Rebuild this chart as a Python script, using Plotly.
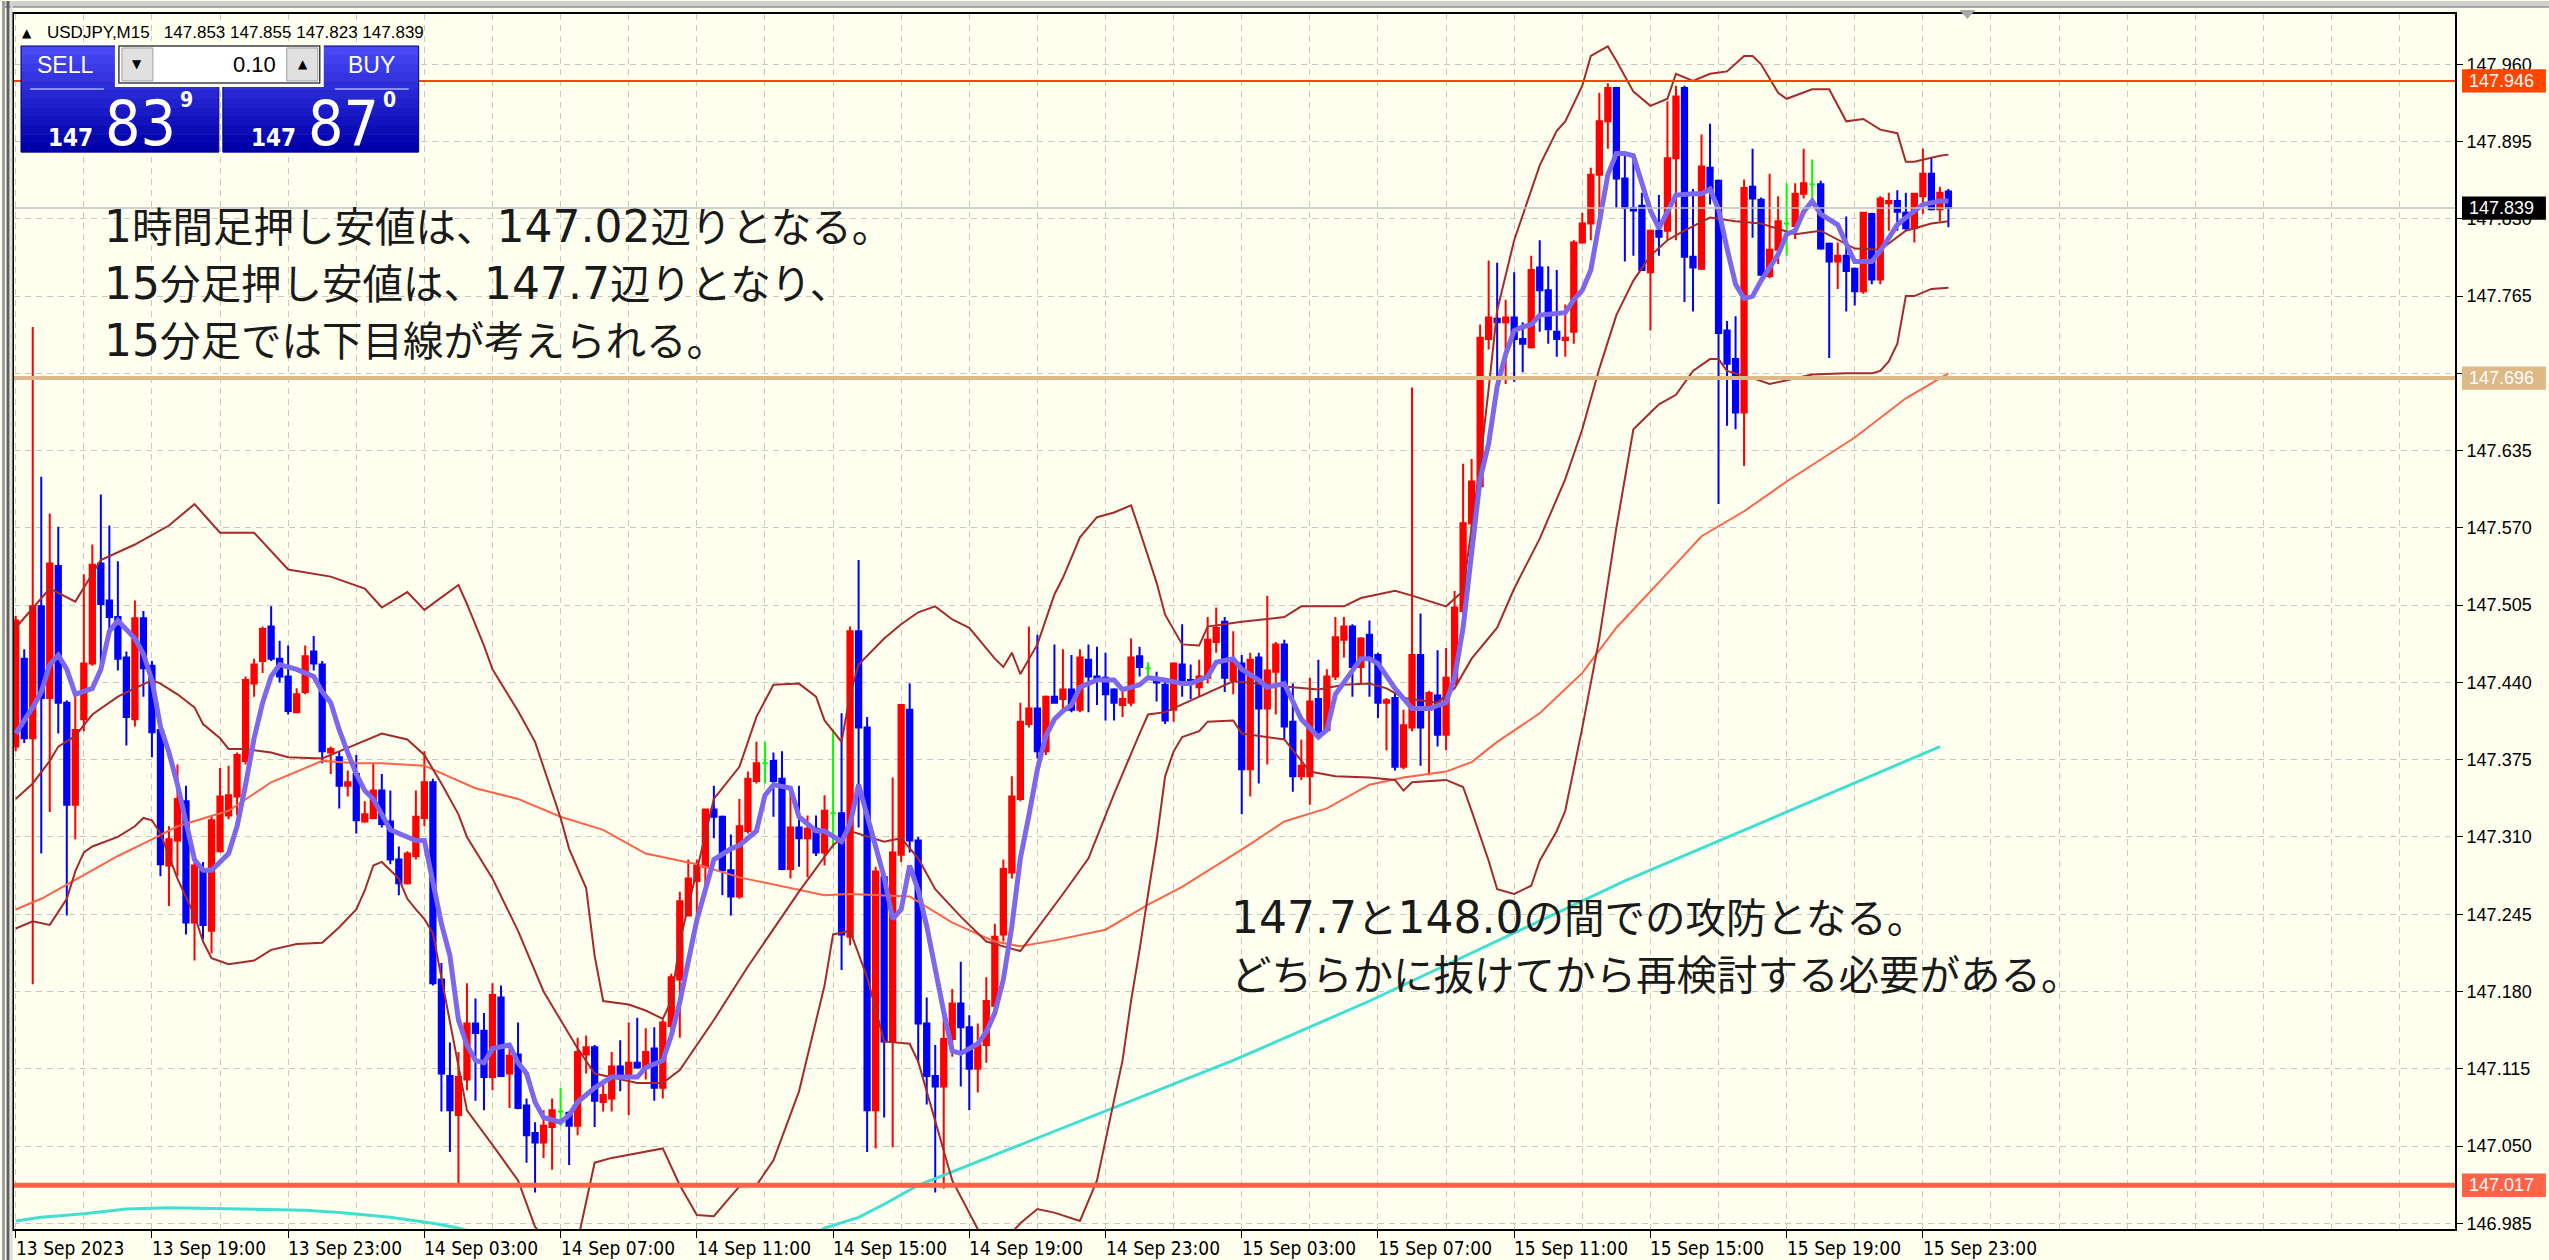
import re
import plotly.graph_objects as go

# ---------------- DATA (USDJPY M15, bar 0 = 13 Sep 2023 15:00) ----------------
opens = [147.386,147.460,147.393,147.504,147.427,147.538,147.423,147.337,147.409,147.456,
147.540,147.509,147.495,147.461,147.409,147.494,147.454,147.400,147.286,147.307,
147.340,147.238,147.282,147.231,147.298,147.328,147.344,147.374,147.439,147.458,
147.487,147.460,147.445,147.415,147.432,147.466,147.455,147.381,147.377,147.353,
147.363,147.323,147.326,147.349,147.323,147.291,147.271,147.294,147.326,147.356,
147.190,147.109,147.076,147.106,147.153,147.147,147.108,147.175,147.111,147.127,
147.084,147.061,147.053,147.066,147.079,147.078,147.067,147.127,147.133,147.087,
147.090,147.117,147.108,147.120,147.116,147.132,147.099,147.151,147.190,147.244,
147.273,147.285,147.333,147.327,147.282,147.260,147.315,147.357,147.372,147.374,
147.359,147.283,147.318,147.309,147.317,147.297,147.330,147.330,147.226,147.483,
147.402,147.080,147.276,147.138,147.295,147.417,147.307,147.153,147.109,147.100,
147.140,147.170,147.150,147.115,147.135,147.168,147.228,147.280,147.342,147.405,
147.418,147.382,147.428,147.426,147.434,147.417,147.459,147.445,147.444,147.434,
147.421,147.423,147.462,147.452,147.443,147.438,147.417,147.455,147.442,147.436,
147.444,147.474,147.491,147.442,147.456,147.367,147.461,147.418,147.449,147.472,
147.407,147.361,147.361,147.426,147.400,147.445,147.476,147.487,147.453,147.480,
147.463,147.423,147.427,147.369,147.402,147.463,147.417,147.429,147.396,147.439,
147.500,147.574,147.605,147.729,147.746,147.743,147.747,147.729,147.722,147.789,
147.770,147.735,147.728,147.735,147.810,147.826,147.867,147.912,147.940,147.864,
147.839,147.841,147.785,147.820,147.820,147.881,147.940,147.798,147.788,147.873,
147.862,147.736,147.712,147.667,147.857,147.846,147.782,147.804,147.826,147.824,
147.851,147.859,147.859,147.809,147.794,147.799,147.788,147.769,147.834,147.779,
147.843,147.845,147.835,147.822,147.849,147.868,147.838,147.853]
highs = [147.496,147.468,147.739,147.613,147.582,147.571,147.425,147.433,147.531,147.556,
147.598,147.572,147.542,147.466,147.509,147.500,147.458,147.403,147.319,147.371,
147.353,147.290,147.289,147.328,147.368,147.370,147.381,147.445,147.460,147.487,
147.504,147.475,147.471,147.435,147.471,147.479,147.458,147.386,147.382,147.366,
147.379,147.340,147.372,147.363,147.349,147.302,147.298,147.349,147.382,147.359,
147.204,147.137,147.129,147.187,147.174,147.162,147.187,147.185,147.132,147.154,
147.090,147.070,147.080,147.090,147.099,147.079,147.141,147.143,147.135,147.106,
147.129,147.139,147.154,147.158,147.149,147.150,147.156,147.195,147.264,147.291,
147.291,147.334,147.353,147.328,147.312,147.342,147.365,147.390,147.390,147.381,
147.382,147.348,147.353,147.328,147.328,147.345,147.401,147.414,147.487,147.543,
147.411,147.285,147.280,147.360,147.422,147.439,147.310,147.175,147.135,147.160,
147.182,147.205,147.160,147.153,147.192,147.237,147.291,147.361,147.423,147.487,
147.480,147.429,147.472,147.468,147.463,147.468,147.472,147.470,147.465,147.435,
147.434,147.477,147.470,147.457,147.449,147.441,147.457,147.489,147.455,147.459,
147.495,147.503,147.495,147.483,147.463,147.465,147.465,147.513,147.474,147.476,
147.439,147.392,147.444,147.459,147.451,147.495,147.495,147.489,147.478,147.492,
147.465,147.427,147.431,147.417,147.688,147.498,147.433,147.467,147.469,147.517,
147.624,147.628,147.741,147.795,147.793,147.762,147.785,147.743,147.799,147.812,
147.790,147.787,147.758,147.812,147.835,147.873,147.936,147.944,147.941,147.885,
147.885,147.852,147.821,147.850,147.929,147.942,147.942,147.855,147.901,147.910,
147.863,147.744,147.748,147.863,147.889,147.848,147.868,147.849,147.860,147.860,
147.889,147.880,147.862,147.810,147.810,147.832,147.789,147.836,147.835,147.849,
147.852,147.854,147.852,147.852,147.889,147.882,147.857,147.855]
lows = [147.382,147.389,147.186,147.296,147.331,147.397,147.244,147.308,147.399,147.454,
147.455,147.483,147.450,147.387,147.403,147.428,147.377,147.277,147.252,147.277,
147.228,147.206,147.224,147.212,147.297,147.325,147.328,147.371,147.428,147.448,
147.458,147.440,147.413,147.414,147.430,147.450,147.372,147.363,147.334,147.344,
147.313,147.322,147.325,147.318,147.287,147.261,147.270,147.291,147.319,147.185,
147.079,147.045,147.017,147.097,147.088,147.080,147.097,147.108,147.082,147.081,
147.036,147.011,147.040,147.030,147.067,147.034,147.059,147.111,147.066,147.079,
147.079,147.096,147.076,147.115,147.106,147.088,147.090,147.141,147.141,147.243,
147.243,147.261,147.309,147.261,147.244,147.258,147.313,147.355,147.355,147.327,
147.282,147.275,147.285,147.276,147.294,147.286,147.300,147.198,147.219,147.318,
147.045,147.048,147.074,147.049,147.289,147.297,147.120,147.085,147.011,147.014,
147.125,147.100,147.080,147.095,147.120,147.164,147.222,147.275,147.340,147.402,
147.376,147.379,147.422,147.415,147.415,147.415,147.415,147.421,147.408,147.408,
147.411,147.420,147.445,147.445,147.424,147.405,147.407,147.428,147.426,147.428,
147.439,147.465,147.432,147.430,147.329,147.344,147.355,147.371,147.413,147.392,
147.348,147.358,147.337,147.394,147.399,147.442,147.461,147.428,147.439,147.428,
147.410,147.383,147.366,147.367,147.399,147.370,147.362,147.386,147.383,147.438,
147.498,147.553,147.603,147.720,147.695,147.691,147.693,147.701,147.721,147.735,
147.725,147.714,147.714,147.725,147.809,147.812,147.831,147.889,147.839,147.794,
147.799,147.786,147.736,147.799,147.812,147.812,147.760,147.752,147.787,147.842,
147.590,147.656,147.653,147.622,147.814,147.782,147.780,147.792,147.799,147.813,
147.847,147.847,147.804,147.713,147.771,147.752,147.757,147.767,147.775,147.775,
147.820,147.820,147.820,147.810,147.834,147.837,147.828,147.823]
closes = [147.492,147.393,147.504,147.427,147.540,147.423,147.337,147.400,147.456,147.539,
147.506,147.495,147.460,147.411,147.494,147.452,147.398,147.287,147.308,147.342,
147.238,147.286,147.236,147.324,147.344,147.345,147.379,147.442,147.455,147.485,
147.460,147.445,147.416,147.430,147.462,147.456,147.382,147.384,147.353,147.356,
147.324,147.329,147.349,147.321,147.291,147.271,147.296,147.327,147.356,147.187,
147.111,147.080,147.108,147.153,147.145,147.108,147.177,147.109,147.126,147.082,
147.059,147.053,147.067,147.080,147.079,147.067,147.129,147.133,147.088,147.093,
147.117,147.108,147.120,147.116,147.129,147.099,147.154,147.192,147.256,147.275,
147.286,147.333,147.327,147.282,147.260,147.319,147.359,147.372,147.372,147.357,
147.283,147.318,147.309,147.317,147.297,147.332,147.330,147.228,147.483,147.402,
147.080,147.281,147.138,147.297,147.421,147.307,147.153,147.109,147.100,147.140,
147.170,147.150,147.115,147.135,147.172,147.226,147.283,147.344,147.407,147.418,
147.382,147.428,147.423,147.434,147.417,147.461,147.445,147.443,147.430,147.423,
147.426,147.461,147.453,147.452,147.440,147.408,147.456,147.441,147.439,147.445,
147.476,147.486,147.444,147.457,147.367,147.459,147.418,147.450,147.472,147.403,
147.361,147.370,147.424,147.396,147.445,147.478,147.487,147.453,147.477,147.459,
147.423,147.425,147.369,147.404,147.463,147.402,147.431,147.396,147.444,147.503,
147.574,147.609,147.730,147.747,147.743,147.747,147.729,147.725,147.787,147.770,
147.737,147.729,147.730,147.810,147.826,147.867,147.912,147.940,147.864,147.839,
147.837,147.787,147.820,147.815,147.881,147.933,147.798,147.789,147.874,147.853,
147.734,147.708,147.667,147.856,147.847,147.783,147.804,147.828,147.826,147.851,
147.860,147.859,147.805,147.794,147.799,147.786,147.769,147.835,147.779,147.847,
147.845,147.836,147.822,147.851,147.868,147.838,147.852,147.839]

# Bollinger bands (20): (bar, price)
bb_up_x = [0,4,7,10,14,18,21,24,28,32,37,41,43,46,48,52,53,55,56,59,61,62,64,65,67,68,69,72,74,76,77,78,80,82,85,87,89,92,94,95,97,98,99,102,104,106,108,110,112,115,116,117,118,120,122,123,125,127,129,131,132,134,135,137,139,140,144,149,151,156,158,162,164,168,170,171,172,173,174,176,179,181,182,184,185,187,188,190,192,194,195,197,199,201,203,204,205,207,208,211,213,215,217,219,221,222,223,226,227]
bb_up = [147.486,147.519,147.508,147.543,147.556,147.572,147.590,147.566,147.566,147.535,147.529,147.519,147.503,147.516,147.501,147.522,147.506,147.471,147.451,147.416,147.390,147.368,147.326,147.300,147.267,147.210,147.172,147.169,147.164,147.157,147.172,147.222,147.281,147.342,147.369,147.411,147.438,147.439,147.428,147.408,147.390,147.430,147.455,147.477,147.489,147.499,147.504,147.493,147.486,147.460,147.453,147.465,147.447,147.472,147.514,147.528,147.562,147.579,147.583,147.589,147.568,147.524,147.497,147.472,147.471,147.487,147.491,147.495,147.504,147.504,147.511,147.517,147.513,147.504,147.517,147.573,147.624,147.687,147.753,147.812,147.875,147.904,147.912,147.942,147.967,147.975,147.963,147.937,147.925,147.931,147.952,147.946,147.952,147.954,147.967,147.967,147.960,147.936,147.931,147.939,147.939,147.912,147.914,147.905,147.902,147.878,147.878,147.883,147.884]
bb_mid_x = [0,2,4,5,7,9,12,16,17,19,21,22,24,25,27,30,32,36,38,40,43,46,48,50,52,53,56,59,62,66,68,73,76,78,82,86,92,96,98,102,104,106,108,111,114,118,120,123,126,129,132,133,135,139,143,150,153,156,159,161,163,165,167,169,171,174,176,179,182,184,186,188,190,192,194,196,199,202,205,209,212,216,219,222,225,227]
bb_mid = [147.342,147.355,147.374,147.386,147.395,147.413,147.428,147.442,147.439,147.430,147.419,147.405,147.393,147.384,147.384,147.381,147.377,147.376,147.382,147.388,147.397,147.392,147.379,147.355,147.329,147.310,147.275,147.231,147.180,147.132,147.111,147.103,147.103,147.114,147.156,147.201,147.264,147.303,147.315,147.306,147.309,147.292,147.266,147.243,147.222,147.214,147.233,147.262,147.292,147.346,147.397,147.413,147.415,147.428,147.441,147.436,147.434,147.438,147.439,147.435,147.427,147.425,147.423,147.435,147.460,147.486,147.519,147.561,147.611,147.653,147.704,147.749,147.778,147.799,147.812,147.820,147.831,147.828,147.826,147.817,147.820,147.805,147.804,147.820,147.826,147.828]
bb_lo_x = [0,2,4,6,7,8,9,12,14,15,16,17,19,21,22,23,25,28,30,33,36,38,40,41,42,43,45,46,47,48,49,51,53,56,59,61,64,65,66,68,70,76,78,80,82,85,87,89,92,95,96,98,100,102,105,106,110,113,115,118,120,122,125,127,130,131,132,133,134,135,136,137,139,140,143,144,149,152,155,159,162,163,164,168,170,171,173,174,176,178,179,181,182,184,186,188,189,190,193,195,197,199,200,201,204,206,211,215,218,219,220,221,222,223,225,227]
bb_lo = [147.233,147.239,147.236,147.258,147.281,147.297,147.302,147.310,147.319,147.326,147.324,147.313,147.275,147.244,147.222,147.208,147.203,147.206,147.215,147.220,147.221,147.234,147.249,147.265,147.286,147.289,147.275,147.258,147.249,147.241,147.229,147.155,147.080,147.051,147.021,146.982,146.958,146.958,146.970,147.036,147.040,147.048,147.017,146.992,146.991,147.016,147.017,147.038,147.096,147.185,147.228,147.231,147.192,147.138,147.136,147.121,147.021,146.980,146.962,146.985,146.997,146.994,146.987,147.021,147.122,147.172,147.215,147.262,147.307,147.361,147.382,147.394,147.399,147.407,147.408,147.397,147.392,147.365,147.361,147.360,147.358,147.349,147.356,147.358,147.352,147.332,147.290,147.266,147.262,147.269,147.290,147.315,147.332,147.402,147.477,147.570,147.611,147.653,147.674,147.682,147.702,147.712,147.712,147.702,147.696,147.691,147.699,147.700,147.700,147.702,147.710,147.725,147.765,147.765,147.771,147.772]

# Long moving average (orange) and very long moving average (cyan)
ma_long_x = [0,3,6,12,16,19,25,30,36,40,43,48,54,59,64,69,74,80,85,95,98,105,110,115,118,122,128,133,137,141,145,149,154,159,163,168,171,174,179,184,188,194,198,203,208,216,222,227]
ma_long = [147.249,147.258,147.270,147.294,147.308,147.319,147.332,147.356,147.374,147.372,147.372,147.370,147.351,147.342,147.327,147.316,147.296,147.287,147.276,147.261,147.262,147.260,147.238,147.222,147.218,147.223,147.232,147.253,147.268,147.286,147.304,147.323,147.334,147.354,147.360,147.365,147.373,147.390,147.414,147.448,147.486,147.532,147.563,147.584,147.609,147.646,147.679,147.700]
ma_vlong_x = [0,3,8,13,18,34,38,44,49,52,57,92,95,99,102,106,143,159,189,226]
ma_vlong = [146.987,146.990,146.993,146.997,146.998,146.996,146.994,146.990,146.985,146.981,146.970,146.966,146.981,146.990,147.001,147.017,147.122,147.172,147.273,147.386]

# Short moving average (thick blue)
ma_short_x = [0,2,3,4,5,6,7,8,9,10,11,12,14,15,16,17,18,19,20,21,22,23,25,26,27,28,29,30,31,33,35,36,37,38,39,40,41,42,43,44,46,47,48,49,50,51,52,53,54,55,56,58,59,60,61,62,64,65,66,68,70,73,74,76,77,78,79,80,82,84,85,87,88,89,91,92,94,95,97,98,99,100,101,102,103,104,105,106,107,108,109,110,111,113,114,115,116,117,118,119,120,121,122,123,124,125,127,129,130,132,133,135,137,138,140,141,143,144,146,147,149,150,151,153,154,155,157,158,159,160,162,164,166,168,169,170,171,172,173,174,175,176,177,178,179,182,183,184,185,186,187,188,189,190,192,193,194,195,197,198,199,200,201,202,203,204,205,207,208,209,210,211,212,214,215,216,218,219,220,221,222,224,226,227]
ma_short = [147.397,147.419,147.432,147.455,147.463,147.451,147.430,147.432,147.435,147.451,147.483,147.492,147.477,147.464,147.442,147.403,147.381,147.354,147.320,147.291,147.282,147.282,147.296,147.319,147.354,147.393,147.423,147.445,147.455,147.451,147.445,147.432,147.423,147.400,147.381,147.363,147.349,147.342,147.329,147.316,147.310,147.307,147.307,147.273,147.237,147.210,147.156,147.135,147.122,147.120,147.132,147.135,147.120,147.111,147.087,147.074,147.070,147.076,147.087,147.099,147.108,147.108,147.116,147.122,147.143,147.171,147.206,147.240,147.291,147.300,147.303,147.315,147.345,147.354,147.351,147.327,147.315,147.315,147.306,147.321,147.354,147.327,147.300,147.276,147.241,147.249,147.286,147.265,147.235,147.198,147.163,147.130,147.128,147.136,147.146,147.162,147.190,147.235,147.292,147.328,147.367,147.395,147.409,147.416,147.421,147.436,147.442,147.442,147.434,147.438,147.444,147.442,147.439,147.439,147.445,147.457,147.460,147.451,147.442,147.436,147.439,147.424,147.409,147.394,147.400,147.430,147.451,147.460,147.460,147.456,147.435,147.418,147.418,147.423,147.444,147.486,147.549,147.611,147.641,147.689,147.716,147.736,147.739,147.741,147.749,147.751,147.762,147.770,147.787,147.829,147.867,147.885,147.885,147.883,147.837,147.822,147.837,147.850,147.851,147.851,147.855,147.838,147.805,147.775,147.763,147.765,147.778,147.800,147.817,147.820,147.836,147.845,147.834,147.825,147.809,147.794,147.794,147.803,147.814,147.825,147.831,147.842,147.845,147.845]

# Horizontal price levels
level_prices = [147.946, 147.696, 147.017]
level_colors = ["#FF4500", "#DEB887", "#FF6347"]
level_widths = [2, 4, 5]
current_price = 147.839

# Axis labels
y_tick_vals = [146.985,147.050,147.115,147.180,147.245,147.310,147.375,147.440,147.505,147.570,147.635,147.700,147.765,147.830,147.895,147.960]
y_tick_text = ["146.985","147.050","147.115","147.180","147.245","147.310","147.375","147.440","147.505","147.570","147.635","147.700","147.765","147.830","147.895","147.960"]
x_tick_bars = [0,16,32,48,64,80,96,112,128,144,160,176,192,208,224]
x_tick_text = ["13 Sep 2023","13 Sep 19:00","13 Sep 23:00","14 Sep 03:00","14 Sep 07:00","14 Sep 11:00",
               "14 Sep 15:00","14 Sep 19:00","14 Sep 23:00","15 Sep 03:00","15 Sep 07:00","15 Sep 11:00",
               "15 Sep 15:00","15 Sep 19:00","15 Sep 23:00"]

note_left = ["1時間足押し安値は、147.02辺りとなる。", "15分足押し安値は、147.7辺りとなり、", "15分足では下目線が考えられる。"]
note_right = ["147.7と148.0の間での攻防となる。", "どちらかに抜けてから再検討する必要がある。"]

# ---------------- FIGURE ----------------
W, H = 2549, 1260
L, R, T, B = 12, 2455, 13, 1229

def px(x):
    return (x - L) / (R - L)

def py(y):
    return (B - y) / (B - T)

BG = "#FFFFF0"
GRID = "#C8C8C8"
NOTE_FONT = "DejaVu Sans, Noto Sans CJK JP, sans-serif"
NARROW = "Liberation Sans Narrow, DejaVu Sans Condensed, Arial Narrow, sans-serif"

def note_markup(s):
    # Latin digits of the note font are larger than the kana/kanji, as in the original
    return re.sub(r"([0-9.]+)", r'<span style="font-size:44px">\1</span>', s)

fig = go.Figure()

idx = list(range(len(opens)))
body_idx = [i for i in idx if opens[i] != closes[i]]
doji_idx = [i for i in idx if opens[i] == closes[i]]

fig.add_trace(go.Candlestick(
    x=body_idx,
    open=[opens[i] for i in body_idx], high=[highs[i] for i in body_idx],
    low=[lows[i] for i in body_idx], close=[closes[i] for i in body_idx],
    increasing=dict(line=dict(color="#FF0000", width=2), fillcolor="#FF0000"),
    decreasing=dict(line=dict(color="#0000FF", width=2), fillcolor="#0000FF"),
    whiskerwidth=0, hoverinfo="skip", showlegend=False))
fig.add_trace(go.Candlestick(
    x=doji_idx,
    open=[opens[i] for i in doji_idx], high=[highs[i] for i in doji_idx],
    low=[lows[i] for i in doji_idx], close=[closes[i] for i in doji_idx],
    increasing=dict(line=dict(color="#00FF00", width=2), fillcolor="#00FF00"),
    decreasing=dict(line=dict(color="#00FF00", width=2), fillcolor="#00FF00"),
    whiskerwidth=0, hoverinfo="skip", showlegend=False))

def add_line(xs, ys, color, width):
    fig.add_trace(go.Scatter(x=xs, y=ys, mode="lines", line=dict(color=color, width=width),
                             hoverinfo="skip", showlegend=False))

add_line(ma_vlong_x, ma_vlong, "#40E0D0", 3)
add_line(ma_long_x, ma_long, "#FF6347", 2)
add_line(bb_up_x, bb_up, "#A52A2A", 2)
add_line(bb_mid_x, bb_mid, "#A52A2A", 2)
add_line(bb_lo_x, bb_lo, "#A52A2A", 2)
add_line(ma_short_x, ma_short, "#7B68EE", 5)

shapes = []
annotations = []

# horizontal price lines
for p, c, w in zip(level_prices, level_colors, level_widths):
    shapes.append(dict(type="line", xref="paper", yref="y", x0=0, x1=1, y0=p, y1=p,
                       line=dict(color=c, width=w), layer="above"))
shapes.append(dict(type="line", xref="paper", yref="y", x0=0, x1=1, y0=current_price, y1=current_price,
                   line=dict(color="#C0C0C0", width=1.5), layer="above"))

# price tags on the right scale
tag_list = [(level_prices[0], level_colors[0]), (level_prices[1], level_colors[1]),
            (level_prices[2], level_colors[2]), (current_price, "#000000")]
for p, c in tag_list:
    shapes.append(dict(type="rect", xref="paper", yref="y", x0=px(2462), x1=px(2546),
                       y0=p - 0.0098, y1=p + 0.0098, fillcolor=c, line=dict(width=0), layer="above"))
    annotations.append(dict(x=px(2467), y=p, xref="paper", yref="y", xanchor="left", yanchor="middle",
                            text="%.3f" % p, showarrow=False,
                            font=dict(family="Liberation Sans, Arial", size=18, color="#FFFFFF")))

# x labels (left-aligned at the tick as in MT4)
for b, t in zip(x_tick_bars, x_tick_text):
    annotations.append(dict(x=b, y=py(1248), xref="x", yref="paper", xanchor="left", yanchor="middle",
                            xshift=-2, text=t, showarrow=False,
                            font=dict(family="DejaVu Sans Condensed, Liberation Sans Narrow, Arial Narrow, sans-serif",
                                      size=19, color="#000000")))

# notes
for k, line in enumerate(note_left):
    annotations.append(dict(x=px(100), y=py(226 + 57 * k), xref="paper", yref="paper", xanchor="left",
                            yanchor="middle", text=note_markup(line), showarrow=False,
                            font=dict(family=NOTE_FONT, size=40.5, color="#1A1A1A")))
for k, line in enumerate(note_right):
    annotations.append(dict(x=px(1228), y=py(917 + 59 * k), xref="paper", yref="paper", xanchor="left",
                            yanchor="middle", text=note_markup(line), showarrow=False,
                            font=dict(family=NOTE_FONT, size=40.5, color="#1A1A1A")))

# symbol header
annotations.append(dict(x=px(18), y=py(32), xref="paper", yref="paper", xanchor="left", yanchor="middle",
                        text="▲", showarrow=False, font=dict(family="DejaVu Sans", size=12, color="#000000")))
annotations.append(dict(x=px(43), y=py(32), xref="paper", yref="paper", xanchor="left", yanchor="middle",
                        text="USDJPY,M15\u00a0\u00a0 147.853 147.855 147.823 147.839", showarrow=False,
                        font=dict(family="Liberation Sans, Arial", size=17, color="#000000")))

# one-click trading panel
def rect(x0, y0, x1, y1, fill, line_color=None, lw=0):
    shapes.append(dict(type="rect", xref="paper", yref="paper", x0=px(x0), x1=px(x1), y0=py(y1), y1=py(y0),
                       fillcolor=fill, line=dict(width=lw, color=line_color or fill), layer="above"))

nstrip = 12
for bx0, bx1 in [(19, 217), (221, 417)]:
    for s in range(nstrip):
        f = s / (nstrip - 1)
        col = "rgb(%d,%d,%d)" % (int(72 * (1 - f)), int(72 * (1 - f)), int(245 - 75 * f))
        y0 = 45 + (151 - 45) * s / nstrip
        y1 = 45 + (151 - 45) * (s + 1) / nstrip
        rect(bx0, y0, bx1, y1 + 0.5, col)
    rect(bx0, 45, bx1, 151, "rgba(0,0,0,0)", "#00007A", 1)
rect(113, 40, 322, 86, BG)
rect(117, 45, 318, 82, "#FFFFFF", "#404040", 1.5)
rect(120, 47, 151, 80, "#E0E0E0", "#A0A0A0", 1)
rect(285, 47, 316, 80, "#E0E0E0", "#A0A0A0", 1)
for x0, x1 in [(28, 102), (333, 407)]:
    shapes.append(dict(type="line", xref="paper", yref="paper", x0=px(x0), x1=px(x1), y0=py(88), y1=py(88),
                       line=dict(color="#8C8CFF", width=2), layer="above"))

def label(x, y, text, size, color="#FFFFFF", family="Liberation Sans, Arial", anchor="center"):
    annotations.append(dict(x=px(x), y=py(y), xref="paper", yref="paper", xanchor=anchor, yanchor="middle",
                            text=text, showarrow=False, font=dict(family=family, size=size, color=color)))

label(63, 64, "SELL", 23)
label(370, 64, "BUY", 23)
label(135, 63, "▼", 12, "#000000", "DejaVu Sans")
label(301, 63, "▲", 12, "#000000", "DejaVu Sans")
label(276, 64, "0.10", 22, "#000000", "Liberation Sans, Arial", "right")
label(93, 137, "<b>147</b>", 24, family=NARROW, anchor="right")
label(101, 123, "83", 62, family=NARROW, anchor="left")
label(176, 99, "<b>9</b>", 21, family=NARROW, anchor="left")
label(296, 137, "<b>147</b>", 24, family=NARROW, anchor="right")
label(304, 123, "87", 62, family=NARROW, anchor="left")
label(379, 99, "<b>0</b>", 21, family=NARROW, anchor="left")

# window frame pieces
shapes.append(dict(type="rect", xref="paper", yref="paper", x0=px(0), x1=px(W), y0=py(6), y1=py(0),
                   fillcolor="#D0D0D0", line=dict(width=0), layer="above"))
shapes.append(dict(type="line", xref="paper", yref="paper", x0=px(0), x1=px(W), y0=py(6), y1=py(6),
                   line=dict(color="#909090", width=1.5), layer="above"))
for xx, cc, ww in [(1.5, "#A0A0A0", 3), (6, "#606060", 3), (9.5, "#D8D8D8", 2)]:
    shapes.append(dict(type="line", xref="paper", yref="paper", x0=px(xx), x1=px(xx), y0=py(1260), y1=py(0),
                       line=dict(color=cc, width=ww), layer="above"))
shapes.append(dict(type="path", xref="paper", yref="paper",
                   path="M %f %f L %f %f L %f %f Z" % (px(1959), py(9), px(1975), py(9), px(1967), py(18)),
                   fillcolor="#A8A8A8", line=dict(width=0), layer="above"))

axis_common = dict(showline=True, mirror=True, linecolor="#000000", linewidth=2, zeroline=False,
                   showgrid=True, gridcolor=GRID, gridwidth=1, griddash="6px,5px", fixedrange=True)

fig.update_layout(
    width=W, height=H,
    margin=dict(l=L, r=W - R, t=T, b=H - B, pad=0),
    paper_bgcolor=BG, plot_bgcolor=BG,
    showlegend=False, hovermode=False, boxgap=0.38, boxgroupgap=0,
    shapes=shapes, annotations=annotations,
    xaxis=dict(range=[-0.2, 286.5], tickmode="array", tickvals=x_tick_bars, showticklabels=False,
               ticks="outside", ticklen=7, tickcolor="#000000", tickwidth=1,
               rangeslider=dict(visible=False),
               minor=dict(tickmode="linear", tick0=0, dtick=8, showgrid=True, gridcolor=GRID,
                          griddash="6px,5px", gridwidth=1, ticks=""),
               **axis_common),
    yaxis=dict(range=[146.9802, 148.0023], side="right", tickmode="array", tickvals=y_tick_vals,
               ticktext=y_tick_text, ticks="outside", ticklen=6, tickcolor="#000000", tickwidth=1,
               tickfont=dict(family="Liberation Sans, Arial", size=18, color="#000000"),
               **axis_common),
)

fig.write_html("out.html")
